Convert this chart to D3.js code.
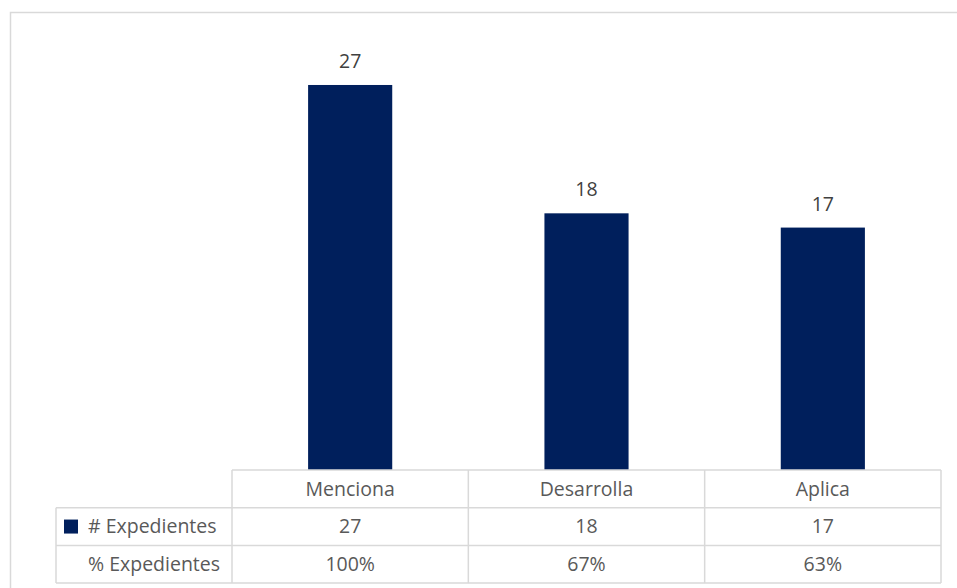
<!DOCTYPE html>
<html><head><meta charset="utf-8">
<script src="https://cdn.jsdelivr.net/npm/d3@7"></script>
<style>body{margin:0;background:#fff}svg{display:block}text{font-family:"Open Sans",sans-serif}</style>
</head><body>
<svg id="c" width="957" height="588"></svg>
<script>
const categories = ["Menciona", "Desarrolla", "Aplica"];
const counts = [27, 18, 17];
const percents = ["100%", "67%", "63%"];
const seriesNames = ["# Expedientes", "% Expedientes"];
const yMax = 30;

const svg = d3.select("#c");
const gridColor = "#d9d9d9";
const barColor = "#001f5c";

// outer border
svg.append("rect").attr("x", 10.5).attr("y", 12.5).attr("width", 1000).attr("height", 1000)
  .attr("fill", "none").attr("stroke", gridColor).attr("stroke-width", 1.5);

const x0 = 232, x1 = 941, plotBottom = 470;
const x = d3.scaleBand().domain(categories).range([x0, x1]).paddingInner(0).paddingOuter(0);
const y = d3.scaleLinear().domain([0, yMax]).range([plotBottom, plotBottom - yMax * 14.26]);
const bw = x.bandwidth() * 0.356;

svg.selectAll(".bar").data(categories).join("rect")
  .attr("x", d => x(d) + x.bandwidth() / 2 - bw / 2)
  .attr("y", (d, i) => y(counts[i]))
  .attr("width", bw)
  .attr("height", (d, i) => y(0) - y(counts[i]))
  .attr("fill", barColor);

const fs = 19.5, tc = "#595959";
svg.selectAll(".lbl").data(categories).join("text")
  .attr("x", d => x(d) + x.bandwidth() / 2)
  .attr("y", (d, i) => y(counts[i]) - 17)
  .attr("text-anchor", "middle").attr("font-size", fs).attr("fill", "#404040")
  .text((d, i) => counts[i]);

// data table
const rowH = 37.7;
const rows = [plotBottom, plotBottom + rowH, plotBottom + 2 * rowH, plotBottom + 3 * rowH];
const legLeft = 56;
const tg = svg.append("g").attr("stroke", gridColor).attr("stroke-width", 1.5);
tg.append("line").attr("x1", x0).attr("x2", x1).attr("y1", rows[0]).attr("y2", rows[0]);
for (let i = 1; i < 4; i++) tg.append("line").attr("x1", legLeft).attr("x2", x1).attr("y1", rows[i]).attr("y2", rows[i]);
tg.append("line").attr("x1", legLeft).attr("x2", legLeft).attr("y1", rows[1]).attr("y2", rows[3]);
categories.forEach(c => tg.append("line").attr("x1", x(c)).attr("x2", x(c)).attr("y1", rows[0]).attr("y2", rows[3]));
tg.append("line").attr("x1", x1).attr("x2", x1).attr("y1", rows[0]).attr("y2", rows[3]);

categories.forEach((c, i) => {
  const cx = x(c) + x.bandwidth() / 2;
  svg.append("text").attr("x", cx).attr("y", (rows[0] + rows[1]) / 2).attr("dy", "0.35em")
    .attr("text-anchor", "middle").attr("font-size", fs).attr("fill", tc).text(c);
  svg.append("text").attr("x", cx).attr("y", (rows[1] + rows[2]) / 2).attr("dy", "0.35em")
    .attr("text-anchor", "middle").attr("font-size", fs).attr("fill", tc).text(counts[i]);
  svg.append("text").attr("x", cx).attr("y", (rows[2] + rows[3]) / 2).attr("dy", "0.35em")
    .attr("text-anchor", "middle").attr("font-size", fs).attr("fill", tc).text(percents[i]);
});
svg.append("rect").attr("x", 64).attr("y", (rows[1] + rows[2]) / 2 - 7).attr("width", 14).attr("height", 14).attr("fill", barColor);
seriesNames.forEach((s, i) => {
  svg.append("text").attr("x", 88).attr("y", (rows[1 + i] + rows[2 + i]) / 2).attr("dy", "0.35em")
    .attr("font-size", fs).attr("fill", tc).text(s);
});
</script>
</body></html>
